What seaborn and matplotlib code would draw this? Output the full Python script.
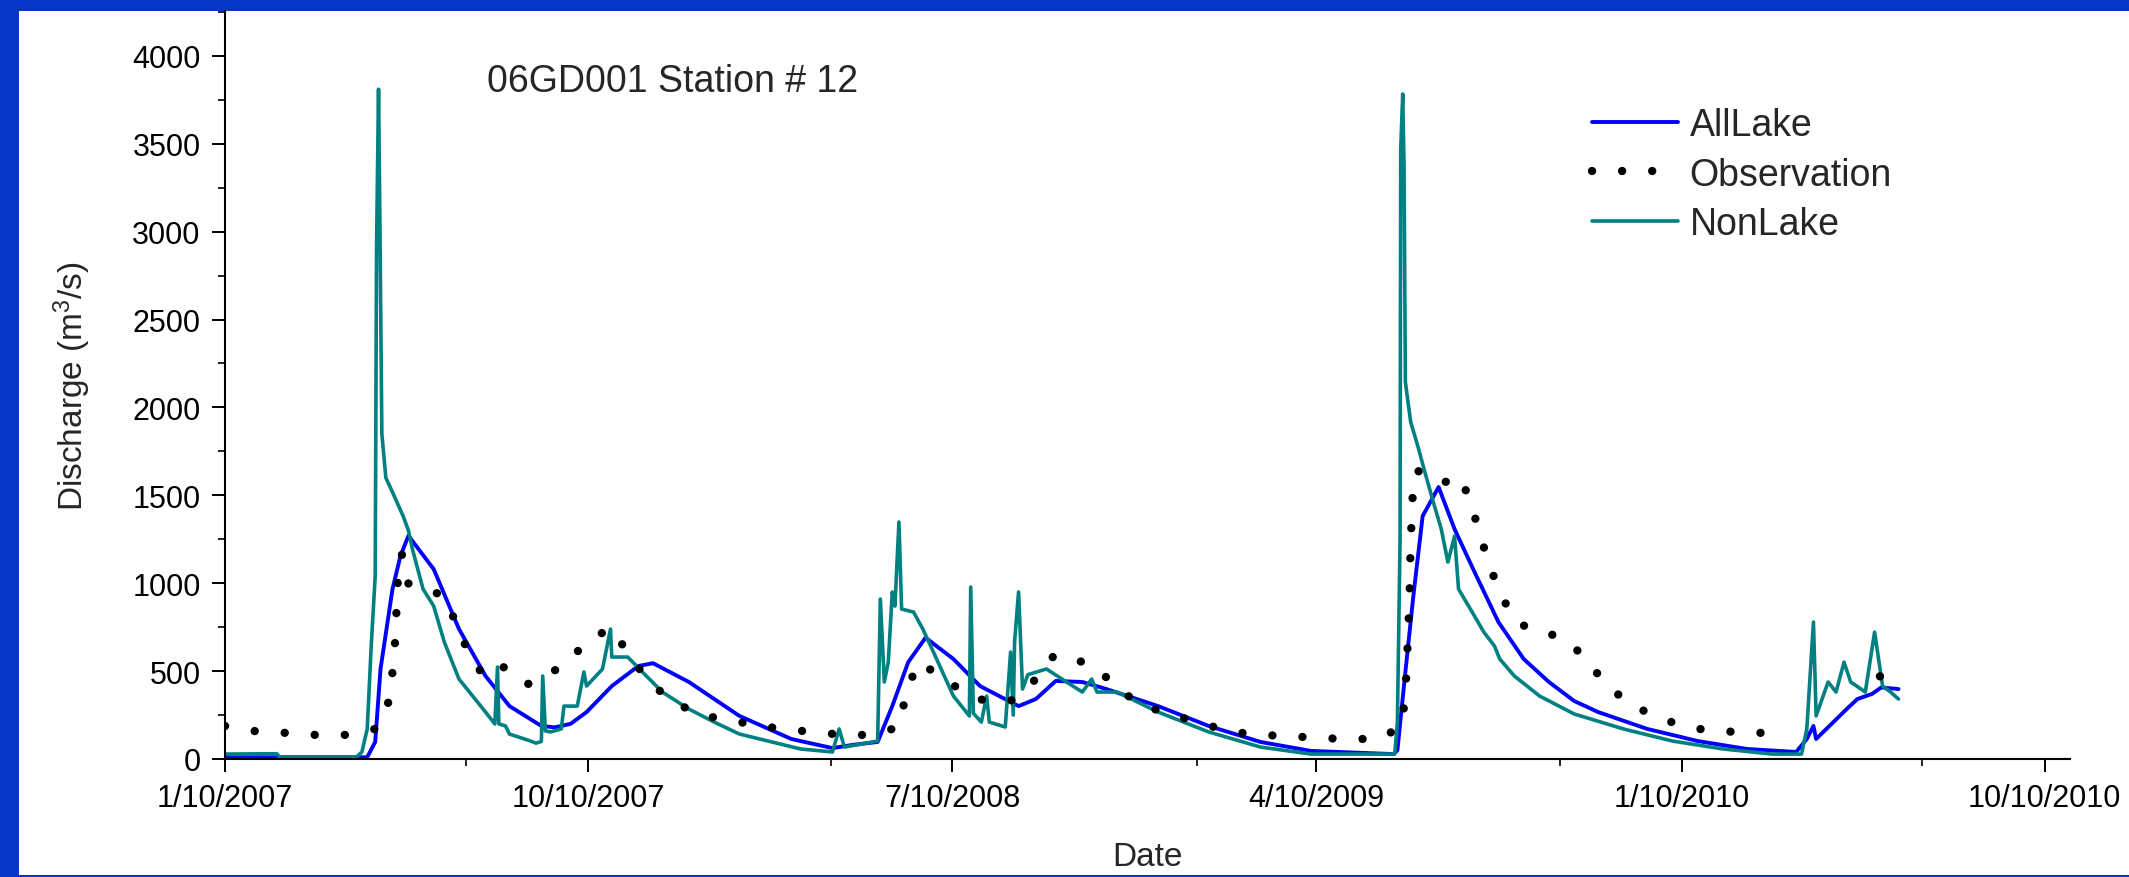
import pandas as pd
import matplotlib
matplotlib.use("Agg")
import matplotlib.pyplot as plt
from matplotlib.patches import Rectangle
from matplotlib.lines import Line2D
from matplotlib.ticker import AutoMinorLocator
import seaborn as sns

# day numbers are counted from the first date on the axis
start = pd.Timestamp("2007-01-10")

alllake_day = [0, 107, 113, 117, 126, 132, 138, 157, 176, 196, 214, 238, 248, 260, 272,
               291, 311, 322, 349, 387, 426, 433, 457, 472, 491, 502, 514, 527, 548, 568,
               597, 610, 625, 645, 663, 702, 740, 779, 817, 879, 882, 888, 894, 901, 913,
               925, 940, 958, 977, 996, 1015, 1033, 1070, 1108, 1145, 1182, 1190, 1195,
               1197, 1220, 1228, 1239, 1246, 1259]
alllake_q = [10, 10, 97, 512, 967, 1155, 1270, 1080, 740, 472, 301, 188, 180, 200, 267,
             415, 529, 545, 438, 245, 114, 102, 62, 80, 97, 301, 551, 690, 569, 415,
             301, 341, 444, 438, 398, 301, 188, 97, 46, 28, 50, 495, 927, 1382, 1547,
             1308, 1064, 779, 569, 438, 330, 267, 171, 102, 57, 40, 114, 188,
             114, 284, 341, 370, 407, 398]

nonlake_day = [0, 39, 41, 99, 103, 107, 110, 113, 114, 115.5, 116.6, 118, 121, 126, 134,
               138, 141, 149, 157, 165, 176, 196, 203, 205, 206, 211, 214, 230, 234, 238,
               239, 241, 245, 253, 255, 265, 270, 272, 284, 290, 291, 303, 314, 329, 349,
               368, 387, 433, 457, 462, 466, 491, 493, 496, 499, 502, 504, 507, 509, 518,
               525, 533, 548, 560, 561, 563, 569, 573, 575, 587, 591, 593, 594, 597, 600,
               604, 618, 633, 645, 652, 656, 671, 702, 740, 779, 817, 880, 882, 884, 884.5,
               886, 887, 888, 892, 898, 902, 909, 915, 920, 925, 928, 940, 947, 955, 959,
               970, 989, 1015, 1052, 1089, 1127, 1164, 1186, 1190, 1195, 1197, 1206, 1212,
               1218, 1223, 1234, 1241, 1247, 1253, 1259]
nonlake_q = [28, 30, 12, 12, 40, 171, 643, 1041, 2900, 3810, 3000, 1850, 1600, 1518, 1382,
             1300, 1194, 967, 870, 665, 455, 267, 199, 523, 200, 188, 142, 102, 90, 100,
             472, 160, 154, 171, 301, 301, 495, 415, 512, 739, 580, 580, 495, 381, 284,
             210, 142, 57, 40, 171, 68, 102, 910, 438, 551, 950, 870, 1348, 853, 836,
             739, 608, 358, 245, 978, 260, 210, 358, 210, 182, 608, 250, 665, 950, 398,
             480, 512, 438, 381, 455, 381, 381, 267, 154, 68, 28, 28, 210, 1251, 3470,
             3783, 3373, 2144, 1917, 1763, 1650, 1462, 1308, 1120, 1268, 967, 813, 722, 643, 569,
             472, 358, 256, 171, 102, 57, 28, 28, 171, 779, 245, 438, 381,
             551, 438, 381, 722, 415, 381, 341]

obs_day = [0, 22, 47, 68, 92, 113, 123, 126, 128, 129, 130, 133, 137, 151, 165, 174, 183,
           195, 210, 228, 241, 256, 272, 290, 303, 316, 332, 352, 372, 396, 418, 442, 465,
           487, 507, 512, 521, 539, 555, 572, 591, 606, 624, 639, 656, 670, 688, 710, 732,
           754, 777, 800, 823, 846, 869, 885, 888, 889, 890, 891, 891.5, 892, 893, 894, 896,
           906, 913, 918, 930, 937, 944, 950, 959, 969, 984, 1003, 1019, 1034, 1050, 1070,
           1090, 1113, 1136, 1158]
obs_q = [188, 159, 148, 137, 137, 171, 324, 495, 671, 842, 1012, 1166, 1001, 967, 927, 768, 608,
         466, 523, 427, 472, 540, 665, 745, 608, 466, 353, 267, 228, 199, 171, 154, 137,
         137, 182, 358, 551, 472, 381, 330, 330, 420, 592, 569, 518, 410, 313, 256, 210,
         159, 137, 131, 119, 114, 114, 188, 358, 529, 711, 893, 1064, 1234, 1411, 1593, 1638,
         1632, 1604, 1576, 1604, 1450, 1291, 1120, 956, 796, 728, 700, 608, 472, 353, 262,
         205, 165, 154, 148]
obs_end_day = [1245, 1252, 1259]
obs_end_q = [470, 480, 440]

major_dates = ["2007-01-10", "2007-10-10", "2008-07-10", "2009-04-10", "2010-01-10", "2010-10-10"]
major_labels = ["1/10/2007", "10/10/2007", "7/10/2008", "4/10/2009", "1/10/2010", "10/10/2010"]
minor_dates = ["2007-07-10", "2008-04-10", "2009-01-10", "2009-10-10", "2010-07-10"]


def frame(days, q):
    return pd.DataFrame({"Date": start + pd.to_timedelta(days, unit="D"), "Discharge": q})


df_all = frame(alllake_day, alllake_q)
df_non = frame(nonlake_day, nonlake_q)
df_obs = frame(obs_day, obs_q)
df_obs_end = frame(obs_end_day, obs_end_q)

sns.set_style("ticks")
plt.rcParams["font.family"] = ["Liberation Sans", "DejaVu Sans"]
plt.rcParams["mathtext.fontset"] = "custom"
plt.rcParams["mathtext.rm"] = "Liberation Sans"
plt.rcParams["mathtext.default"] = "regular"

W, H = 2129, 878
fig = plt.figure(figsize=(W / 100, H / 100), dpi=100, facecolor="#0637c8")
fig.patches.append(Rectangle((19 / W, 2 / H), 1 - 19 / W, 1 - 14 / H, transform=fig.transFigure,
                             facecolor="white", edgecolor="none", zorder=-10))
ax = fig.add_axes([225 / W, 1 - 760 / H, (2070 - 225) / W, (760 - 12) / H])
ax.set_facecolor("none")

blue = "#0000ff"
teal = "#008080"
dots = dict(color="black", linewidth=6, linestyle=(0, (0.01, 3.6)), dash_capstyle="round")

sns.lineplot(data=df_all, x="Date", y="Discharge", color=blue, linewidth=2.8, ax=ax)
sns.lineplot(data=df_non, x="Date", y="Discharge", color=teal, linewidth=2.6, ax=ax)
sns.lineplot(data=df_obs, x="Date", y="Discharge", ax=ax, **dots)
sns.lineplot(data=df_obs_end, x="Date", y="Discharge", ax=ax, **dots)

ax.set_xlim(start, pd.Timestamp("2010-10-29"))
ax.set_ylim(0, 4255)
ax.set_xticks(pd.to_datetime(major_dates))
ax.set_xticklabels(major_labels)
ax.set_xticks(pd.to_datetime(minor_dates), minor=True)
ax.set_yticks(range(0, 4001, 500))
ax.yaxis.set_minor_locator(AutoMinorLocator(2))

ax.tick_params(which="major", direction="out", length=9.5, width=1.4, labelsize=22, pad=8, colors="black")
ax.tick_params(which="minor", direction="out", length=5, width=1.4)
sns.despine(ax=ax)
for s in ["left", "bottom"]:
    ax.spines[s].set_linewidth(1.5)
    ax.spines[s].set_color("black")

ax.set_xlabel("Date", fontsize=24, labelpad=20)
ax.set_ylabel("Discharge (m$^3$/s)", fontsize=24, labelpad=28)

fig.text(487 / W, 1 - 92 / H, "06GD001 Station # 12", fontsize=27, va="baseline", ha="left")

handles = [Line2D([], [], color=blue, linewidth=2.8),
           Line2D([], [], **dots),
           Line2D([], [], color=teal, linewidth=2.6)]
fig.legend(handles, ["AllLake", "Observation", "NonLake"], loc="upper left",
           bbox_to_anchor=(1592 / W, 1 - 108 / H), frameon=False, fontsize=27,
           borderpad=0, borderaxespad=0, handlelength=2.3, handletextpad=0.3, labelspacing=0.36)

fig.savefig("out.png", dpi=100, facecolor=fig.get_facecolor())
